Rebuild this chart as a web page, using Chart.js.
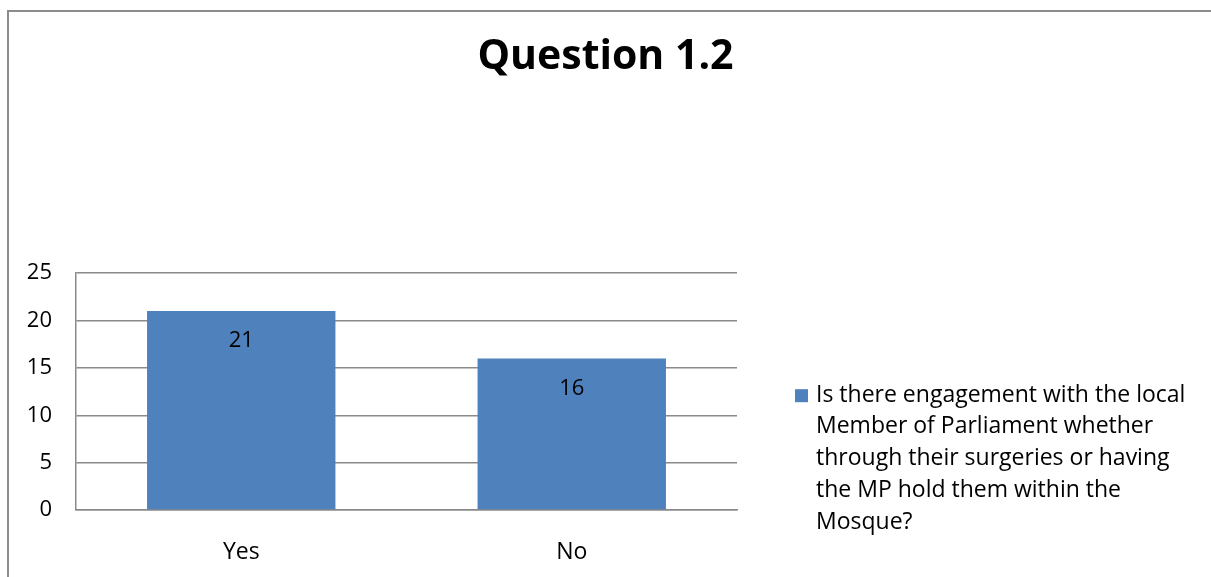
<!DOCTYPE html>
<html>
<head>
<meta charset="utf-8">
<script src="https://cdn.jsdelivr.net/npm/chart.js@4"></script>
<style>
  html, body { margin: 0; padding: 0; background: #fff; overflow: hidden; width: 1211px; height: 577px; }
  #frame { position: absolute; left: 7px; top: 10px; width: 1300px; height: 700px;
           border-left: 2px solid #8c8c8c; border-top: 2px solid #8c8c8c; }
  #wrap { position: absolute; left: 0; top: 0; width: 1211px; height: 577px; }
</style>
</head>
<body>
<div id="frame"></div>
<div id="wrap"><canvas id="qChart"></canvas></div>
<script>
// === Data ===
const categories = ["Yes", "No"];
const answers = [21, 16];
const yTicks = [0, 5, 10, 15, 20, 25];
const chartTitle = "Question 1.2";
const seriesName = [
    "Is there engagement with the local",
    "Member of Parliament whether",
    "through their surgeries or having",
    "the MP hold them within the",
    "Mosque?"
];

const barColor = "#4F81BD";
const font = "'Open Sans', sans-serif";

// === Nilai di dalam batang ===
const valueLabels = {
    id: "valueLabels",
    afterDatasetsDraw(chart) {
        const ctx = chart.ctx;
        const meta = chart.getDatasetMeta(0);
        ctx.save();
        ctx.fillStyle = "#000";
        ctx.font = "22px " + font;
        ctx.textAlign = "center";
        ctx.textBaseline = "middle";
        meta.data.forEach((bar, i) => {
            ctx.fillText(String(answers[i]), bar.x, bar.y + 30);
        });
        ctx.restore();
    },
};

// === Legend kanan (teks dibungkus) ===
const sideLegend = {
    id: "sideLegend",
    beforeInit(chart) {
        const box = {
            position: "right",
            weight: 0,
            fullSize: false,
            options: {},
            width: 0, height: 0, left: 0, top: 0, right: 0, bottom: 0,
            update(maxWidth, maxHeight) {
                this.width = 474;
                this.height = maxHeight;
            },
            getPadding() { return { left: 0, right: 0, top: 0, bottom: 0 }; },
            isHorizontal() { return false; },
            draw() {
                const ctx = chart.ctx;
                const x0 = this.left + 58;
                const y0 = chart.chartArea.top + 122;
                ctx.save();
                ctx.fillStyle = barColor;
                ctx.fillRect(x0, y0 - 6, 13, 13);
                ctx.fillStyle = "#000";
                ctx.font = "23px " + font;
                ctx.textAlign = "left";
                ctx.textBaseline = "middle";
                seriesName.forEach((line, i) => {
                    ctx.fillText(line, x0 + 21, y0 + i * 31.7);
                });
                ctx.restore();
            },
        };
        Chart.layouts.addBox(chart, box);
    },
};

const ctx = document.getElementById("qChart").getContext("2d");
new Chart(ctx, {
    type: "bar",
    data: {
        labels: categories,
        datasets: [
            {
                label: seriesName.join(" "),
                data: answers,
                backgroundColor: barColor,
                borderWidth: 0,
                barPercentage: 0.57,
                categoryPercentage: 1,
            },
        ],
    },
    options: {
        responsive: true,
        maintainAspectRatio: false,
        animation: false,
        layout: { padding: 0 },
        plugins: {
            legend: { display: false },
            tooltip: { enabled: false },
            title: {
                display: true,
                text: chartTitle,
                color: "#000",
                font: { family: font, size: 41, weight: "bold" },
                padding: { top: 33, bottom: 191 },
            },
        },
        scales: {
            y: {
                min: 0,
                max: 25,
                afterBuildTicks: (s) => { s.ticks = yTicks.map((v) => ({ value: v })); },
                afterFit: (s) => { s.width = 76; },
                ticks: { color: "#000", font: { family: font, size: 22 }, padding: 24 },
                grid: { color: "#8a8a8a", lineWidth: 1.5, drawTicks: false },
                border: { color: "#8a8a8a", width: 1.5 },
            },
            x: {
                afterFit: (s) => { s.height = 67; },
                ticks: { color: "#000", font: { family: font, size: 23 }, padding: 29 },
                grid: { display: false, drawTicks: false },
                border: { color: "#8a8a8a", width: 1.5 },
            },
        },
    },
    plugins: [valueLabels, sideLegend],
});
</script>
</body>
</html>
